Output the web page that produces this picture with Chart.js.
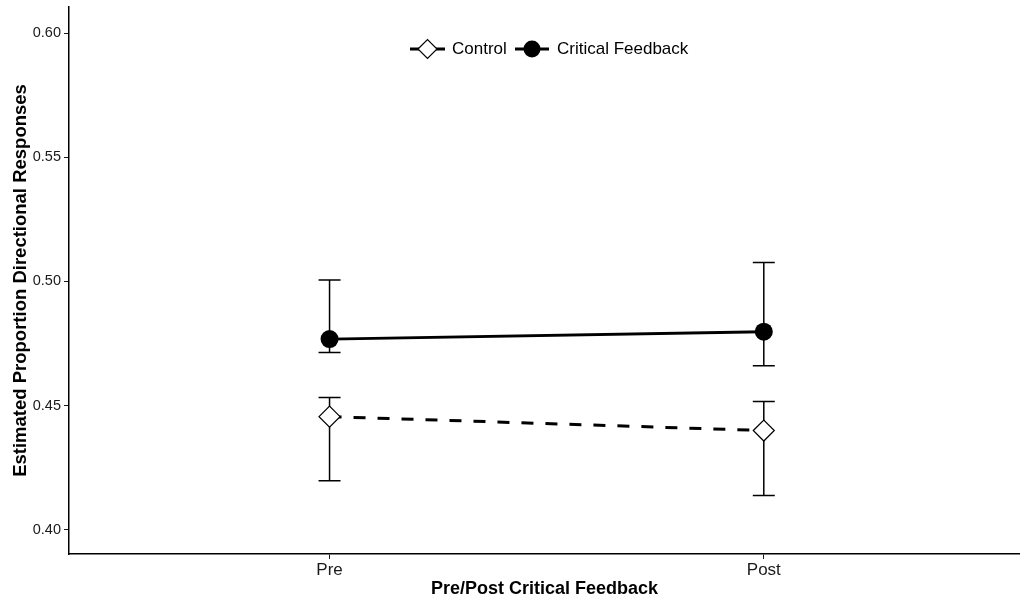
<!DOCTYPE html>
<html>
<head>
<meta charset="utf-8">
<script src="https://cdn.jsdelivr.net/npm/chart.js@4.4.1/dist/chart.umd.min.js"></script>
<style>
  html, body { margin: 0; padding: 0; background: #fff; }
  #wrap { width: 1020px; height: 602px; position: relative; }
</style>
</head>
<body>
<div id="wrap"><canvas id="c"></canvas></div>
<script>
// Estimated proportions with confidence limits, per phase and group
const phases = ['Pre', 'Post'];
const groups = ['Control', 'Critical Feedback'];
const controlMean = [0.4456, 0.4400];
const controlLower = [0.4198, 0.4138];
const controlUpper = [0.4533, 0.4517];
const criticalMean = [0.4768, 0.4798];
const criticalLower = [0.4714, 0.4661];
const criticalUpper = [0.5006, 0.5076];
const yTicks = [0.40, 0.45, 0.50, 0.55, 0.60];
const xTicks = [1, 2];

const FONT = "'Liberation Sans', Arial, Helvetica, sans-serif";

function toPoints(vals) {
  return vals.map((v, i) => ({ x: i + 1, y: v }));
}

// Vertical error bars with caps, drawn beneath the lines and markers
const errorBars = {
  id: 'errorBars',
  beforeDatasetsDraw(chart) {
    const { ctx, scales: { x, y } } = chart;
    const capHalf = 11;
    ctx.save();
    ctx.strokeStyle = '#000';
    ctx.lineWidth = 1.5;
    chart.data.datasets.forEach(ds => {
      ds.data.forEach((p, i) => {
        const px = x.getPixelForValue(p.x);
        const top = y.getPixelForValue(ds.upper[i]);
        const bot = y.getPixelForValue(ds.lower[i]);
        ctx.beginPath();
        ctx.moveTo(px, top); ctx.lineTo(px, bot);
        ctx.moveTo(px - capHalf, top); ctx.lineTo(px + capHalf, top);
        ctx.moveTo(px - capHalf, bot); ctx.lineTo(px + capHalf, bot);
        ctx.stroke();
      });
    });
    ctx.restore();
  }
};

// Legend keys: short line segment with the group marker, then the label
const keyLegend = {
  id: 'keyLegend',
  afterDraw(chart) {
    const { ctx } = chart;
    const cy = 49;
    const items = [
      { x0: 410, x1: 445, text: groups[0], textX: 452, dash: [12, 12], marker: 'diamond', r: 9.5 },
      { x0: 515, x1: 549, text: groups[1], textX: 557, dash: [], marker: 'circle', r: 8.5 }
    ];
    ctx.save();
    items.forEach(it => {
      ctx.strokeStyle = '#000';
      ctx.lineWidth = 3;
      ctx.setLineDash(it.dash);
      ctx.beginPath();
      ctx.moveTo(it.x0, cy); ctx.lineTo(it.x1, cy);
      ctx.stroke();
      ctx.setLineDash([]);
      const cx = (it.x0 + it.x1) / 2;
      ctx.beginPath();
      if (it.marker === 'diamond') {
        ctx.moveTo(cx - it.r, cy); ctx.lineTo(cx, cy - it.r);
        ctx.lineTo(cx + it.r, cy); ctx.lineTo(cx, cy + it.r);
        ctx.closePath();
        ctx.fillStyle = '#fff'; ctx.fill();
        ctx.lineWidth = 1.2; ctx.stroke();
      } else {
        ctx.arc(cx, cy, it.r, 0, Math.PI * 2);
        ctx.fillStyle = '#000'; ctx.fill();
      }
      ctx.fillStyle = '#000';
      ctx.font = '17px ' + FONT;
      ctx.textBaseline = 'middle';
      ctx.textAlign = 'left';
      ctx.fillText(it.text, it.textX, cy);
    });
    ctx.restore();
  }
};

new Chart(document.getElementById('c'), {
  type: 'line',
  data: {
    datasets: [
      {
        label: groups[0],
        data: toPoints(controlMean),
        lower: controlLower,
        upper: controlUpper,
        borderColor: '#000',
        borderWidth: 3,
        borderDash: [12, 12],
        pointStyle: 'rectRot',
        pointRadius: 10.5,
        pointHoverRadius: 10.5,
        pointBackgroundColor: '#fff',
        pointBorderColor: '#000',
        pointBorderWidth: 1.2,
        fill: false,
        tension: 0
      },
      {
        label: groups[1],
        data: toPoints(criticalMean),
        lower: criticalLower,
        upper: criticalUpper,
        borderColor: '#000',
        borderWidth: 3,
        pointStyle: 'circle',
        pointRadius: 9,
        pointHoverRadius: 9,
        pointBackgroundColor: '#000',
        pointBorderColor: '#000',
        pointBorderWidth: 0,
        fill: false,
        tension: 0
      }
    ]
  },
  options: {
    responsive: true,
    maintainAspectRatio: false,
    animation: false,
    events: [],
    layout: { autoPadding: false, padding: { top: 7, right: 0, bottom: 2, left: 0 } },
    plugins: {
      legend: { display: false },
      tooltip: { enabled: false }
    },
    scales: {
      x: {
        type: 'linear',
        min: 0.4,
        max: 2.59,
        afterBuildTicks(s) { s.ticks = xTicks.map(v => ({ value: v })); },
        afterFit(s) { s.height = 46; s.paddingLeft = 0; s.paddingRight = 0; },
        ticks: {
          callback: v => phases[v - 1],
          color: '#1a1a1a',
          font: { family: FONT, size: 17 },
          padding: 1,
          autoSkip: false,
          maxRotation: 0
        },
        grid: { display: true, drawOnChartArea: false, drawTicks: true, tickLength: 5, color: '#1a1a1a', lineWidth: 1 },
        border: { display: true, color: '#000', width: 1.5 },
        title: {
          display: true,
          text: 'Pre/Post Critical Feedback',
          color: '#000',
          font: { family: FONT, size: 18, weight: 'bold' },
          padding: { top: 0, bottom: 0 }
        }
      },
      y: {
        type: 'linear',
        min: 0.3903,
        max: 0.6105,
        afterBuildTicks(s) { s.ticks = yTicks.map(v => ({ value: v })); },
        afterFit(s) { s.width = 69; s.paddingTop = 0; s.paddingBottom = 0; },
        ticks: {
          callback: v => v.toFixed(2),
          color: '#1a1a1a',
          font: { family: FONT, size: 14.5 },
          padding: 3
        },
        grid: { display: true, drawOnChartArea: false, drawTicks: true, tickLength: 5, color: '#1a1a1a', lineWidth: 1 },
        border: { display: true, color: '#000', width: 1.5 },
        title: {
          display: true,
          text: 'Estimated Proportion Directional Responses',
          color: '#000',
          font: { family: FONT, size: 18.5, weight: 'bold' },
          padding: { top: 10, bottom: 0 }
        }
      }
    }
  },
  plugins: [errorBars, keyLegend]
});
</script>
</body>
</html>
